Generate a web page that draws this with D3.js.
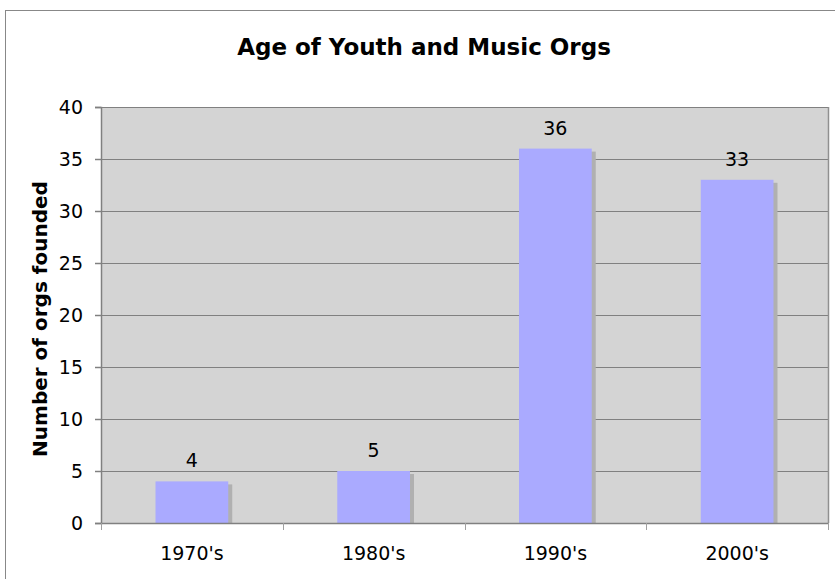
<!DOCTYPE html>
<html>
<head>
<meta charset="utf-8">
<script src="https://cdn.jsdelivr.net/npm/d3@7"></script>
<style>
  body { margin: 0; background: #fff; }
  text { font-family: "DejaVu Sans", Verdana, sans-serif; fill: #000; }
</style>
</head>
<body>
<div id="chart"></div>
<script>
var decades = ["1970's", "1980's", "1990's", "2000's"];
var orgs_founded = [4, 5, 36, 33];
var y_ticks = [0, 5, 10, 15, 20, 25, 30, 35, 40];

var width = 835, height = 579;
var plot = { left: 101, top: 107, right: 828, bottom: 523 };
var font_size = 19;

var svg = d3.select('#chart').append('svg')
  .attr('width', width)
  .attr('height', height);

// outer chart frame
svg.append('rect')
  .attr('x', 5.5).attr('y', 10.5)
  .attr('width', 900).attr('height', 700)
  .attr('fill', '#fff')
  .attr('stroke', '#888');

var x = d3.scaleBand()
  .domain(decades)
  .range([plot.left, plot.right])
  .paddingInner(0.6)
  .paddingOuter(0.3);

var band = d3.scaleBand()
  .domain(decades)
  .range([plot.left, plot.right]);

var y = d3.scaleLinear()
  .domain([0, 40])
  .range([plot.bottom, plot.top]);

// plot area
svg.append('rect')
  .attr('x', plot.left).attr('y', plot.top)
  .attr('width', plot.right - plot.left)
  .attr('height', plot.bottom - plot.top)
  .attr('fill', '#d4d4d4');

// grid lines
svg.append('g').selectAll('line')
  .data(y_ticks.filter(function(d){ return d > 0; }))
  .enter().append('line')
  .attr('x1', plot.left).attr('x2', plot.right)
  .attr('y1', function(d){ return Math.round(y(d)) + 0.5; })
  .attr('y2', function(d){ return Math.round(y(d)) + 0.5; })
  .attr('stroke', '#808080');

// right border
svg.append('line')
  .attr('x1', plot.right + 0.5).attr('x2', plot.right + 0.5)
  .attr('y1', plot.top).attr('y2', plot.bottom)
  .attr('stroke', '#909090').attr('stroke-width', 1.5);

// bar shadows
svg.append('g').selectAll('rect')
  .data(orgs_founded)
  .enter().append('rect')
  .attr('x', function(d, i){ return x(decades[i]) + 4; })
  .attr('y', function(d){ return y(d) + 3; })
  .attr('width', x.bandwidth())
  .attr('height', function(d){ return plot.bottom - y(d) - 3; })
  .attr('fill', '#b0b0b0');

// bars
svg.append('g').selectAll('rect')
  .data(orgs_founded)
  .enter().append('rect')
  .attr('x', function(d, i){ return x(decades[i]); })
  .attr('y', function(d){ return y(d); })
  .attr('width', x.bandwidth())
  .attr('height', function(d){ return plot.bottom - y(d); })
  .attr('fill', '#aaaaff');

// value labels
svg.append('g').selectAll('text')
  .data(orgs_founded)
  .enter().append('text')
  .attr('x', function(d, i){ return x(decades[i]) + x.bandwidth()/2; })
  .attr('y', function(d){ return y(d) - 14; })
  .attr('text-anchor', 'middle')
  .attr('font-size', font_size + 'px')
  .text(function(d){ return d; });

// y axis
var yAxis = svg.append('g')
  .attr('transform', 'translate(' + plot.left + ',0)')
  .call(d3.axisLeft(y).tickValues(y_ticks).tickSize(6).tickPadding(12));
yAxis.selectAll('text').attr('font-size', font_size + 'px').attr('font-family', null);
yAxis.selectAll('line, path').attr('stroke', '#808080').attr('stroke-width', 1.5);

// x axis
var xAxis = svg.append('g')
  .attr('transform', 'translate(0,' + plot.bottom + ')')
  .call(d3.axisBottom(band).tickSize(0).tickPadding(24));
xAxis.select('path').attr('stroke', '#808080').attr('stroke-width', 1.5);
xAxis.selectAll('text').attr('font-size', font_size + 'px').attr('font-family', null);

// x ticks at category boundaries
var bounds = decades.map(function(d){ return band(d); }).concat([plot.right]);
svg.append('g').selectAll('line')
  .data(bounds)
  .enter().append('line')
  .attr('x1', function(d){ return Math.round(d) + 0.5; })
  .attr('x2', function(d){ return Math.round(d) + 0.5; })
  .attr('y1', plot.bottom).attr('y2', plot.bottom + 7)
  .attr('stroke', '#a0a0a0');

// title
svg.append('text')
  .attr('x', 424).attr('y', 55)
  .attr('text-anchor', 'middle')
  .attr('font-size', '23px')
  .attr('font-weight', 'bold')
  .text('Age of Youth and Music Orgs');

// y axis title
svg.append('text')
  .attr('transform', 'translate(47,' + ((plot.top + plot.bottom)/2 + 4) + ') rotate(-90)')
  .attr('text-anchor', 'middle')
  .attr('font-size', '20px')
  .attr('font-weight', 'bold')
  .text('Number of orgs founded');
</script>
</body>
</html>
